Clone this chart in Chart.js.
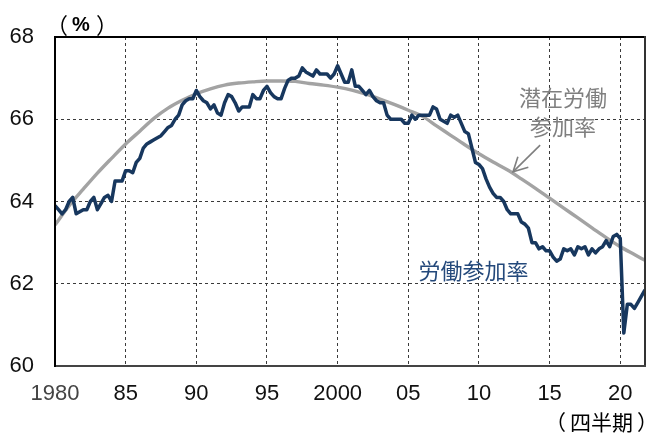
<!DOCTYPE html>
<html lang="ja">
<head>
<meta charset="utf-8">
<title>労働参加率と潜在労働参加率</title>
<script src="https://cdn.jsdelivr.net/npm/chart.js@4.4.1/dist/chart.umd.min.js"></script>
<style>
  html, body { margin: 0; padding: 0; background: #fff; }
  canvas { display: block; }
</style>
</head>
<body>
<canvas id="c" width="651" height="433"></canvas>
<script>
// Quarterly labour force participation rate (%), 1980Q1 - 2021Q4
const startYear = 1980;
const lfpr = [
  63.9, 63.8, 63.7, 63.8,   // 1980
  64.0, 64.1, 63.7, 63.75,  // 1981
  63.8, 63.8, 64.0, 64.1,   // 1982
  63.8, 63.95, 64.1, 64.15, // 1983
  64.0, 64.5, 64.5, 64.5,   // 1984
  64.75, 64.75, 64.7, 64.95,// 1985
  65.05, 65.3, 65.4, 65.45, // 1986
  65.5, 65.55, 65.6, 65.7,  // 1987
  65.8, 65.85, 66.0, 66.1,  // 1988
  66.35, 66.45, 66.5, 66.5, // 1989
  66.7, 66.55, 66.45, 66.4, // 1990
  66.25, 66.35, 66.15, 66.1,// 1991
  66.4, 66.6, 66.55, 66.4,  // 1992
  66.2, 66.3, 66.3, 66.3,   // 1993
  66.6, 66.5, 66.5, 66.7,   // 1994
  66.8, 66.65, 66.55, 66.5, // 1995
  66.5, 66.75, 66.95, 67.0, // 1996
  67.0, 67.05, 67.25, 67.15,// 1997
  67.1, 67.05, 67.2, 67.1,  // 1998
  67.1, 67.1, 67.0, 67.1,   // 1999
  67.3, 67.1, 66.9, 66.9,   // 2000
  67.2, 66.8, 66.8, 66.7,   // 2001
  66.6, 66.7, 66.55, 66.45, // 2002
  66.4, 66.4, 66.1, 66.0,   // 2003
  66.0, 66.0, 66.0, 65.9,   // 2004
  65.9, 66.1, 66.0, 66.1,   // 2005
  66.1, 66.1, 66.1, 66.3,   // 2006
  66.25, 66.0, 65.95, 65.9, // 2007
  66.1, 66.05, 66.1, 65.9,  // 2008
  65.7, 65.65, 65.3, 64.95, // 2009
  64.9, 64.8, 64.55, 64.35, // 2010
  64.2, 64.1, 64.1, 64.0,   // 2011
  63.8, 63.7, 63.7, 63.7,   // 2012
  63.5, 63.45, 63.35, 63.0, // 2013
  63.0, 62.85, 62.9, 62.8,  // 2014
  62.8, 62.65, 62.55, 62.6, // 2015
  62.85, 62.8, 62.85, 62.7, // 2016
  62.9, 62.85, 62.9, 62.7,  // 2017
  62.85, 62.75, 62.85, 62.9,// 2018
  63.05, 62.9, 63.15, 63.2, // 2019
  63.1, 60.8, 61.5, 61.5,   // 2020
  61.4, 61.55, 61.7, 61.85  // 2021
];

// Potential participation rate (%), start of each year plus the last quarter
const potentialYears = [
  1980, 1981, 1982, 1983, 1984, 1985, 1986, 1987, 1988, 1989,
  1990, 1991, 1992, 1993, 1994, 1995, 1996, 1997, 1998, 1999,
  2000, 2001, 2002, 2003, 2004, 2005, 2006, 2007, 2008, 2009,
  2010, 2011, 2012, 2013, 2014, 2015, 2016, 2017, 2018, 2019,
  2020, 2021, 2021.75
];
const potentialRate = [
  63.43, 63.90, 64.30, 64.69, 65.05, 65.40, 65.71, 66.02, 66.27, 66.46,
  66.62, 66.74, 66.83, 66.88, 66.91, 66.93, 66.93, 66.92, 66.87, 66.83,
  66.78, 66.71, 66.61, 66.49, 66.36, 66.22, 66.07, 65.84, 65.61, 65.38,
  65.16, 64.96, 64.77, 64.55, 64.32, 64.08, 63.84, 63.60, 63.36, 63.12,
  62.90, 62.71, 62.57
];

// Axis ticks
const xTickYears  = [1980, 1985, 1990, 1995, 2000, 2005, 2010, 2015, 2020];
const xTickLabels = ['1980', '85', '90', '95', '2000', '05', '10', '15', '20'];
const yTicks = [60, 62, 64, 66, 68];

const X_MIN = 1980, X_MAX = 2021.75, Y_MIN = 60, Y_MAX = 68;

const lfprPoints = lfpr.map((v, i) => ({ x: startYear + i / 4, y: v }));
const potentialPoints = potentialYears.map((yr, i) => ({ x: yr, y: potentialRate[i] }));

const LATIN = '"Liberation Sans", Arial, sans-serif';
const CJK = '"Noto Sans CJK JP", "Noto Sans", sans-serif';

// Box around the plotting area
const framePlugin = {
  id: 'frame',
  afterDatasetsDraw(chart) {
    const { ctx, chartArea: a } = chart;
    ctx.save();
    ctx.lineWidth = 2;
    ctx.lineCap = 'square';
    const seg = (x1, y1, x2, y2, c) => {
      ctx.strokeStyle = c;
      ctx.beginPath(); ctx.moveTo(x1, y1); ctx.lineTo(x2, y2); ctx.stroke();
    };
    seg(a.left, a.top, a.right, a.top, '#000');
    seg(a.right, a.top, a.right, a.bottom, '#333');
    seg(a.left, a.bottom, a.right, a.bottom, '#444');
    seg(a.left, a.top, a.left, a.bottom, '#000');
    ctx.restore();
  }
};

// Draws a string so that its inked part starts at inkLeft, vertically centred on y
function drawInk(ctx, text, inkLeft, y) {
  ctx.textAlign = 'left';
  const m = ctx.measureText(text);
  ctx.fillText(text, inkLeft + m.actualBoundingBoxLeft, y);
  return inkLeft + m.actualBoundingBoxLeft + m.actualBoundingBoxRight;
}

// Unit labels, series names and the arrow to the potential rate curve
const notesPlugin = {
  id: 'notes',
  afterDraw(chart) {
    const { ctx, chartArea: a } = chart;
    const sx = chart.scales.x, sy = chart.scales.y;
    const px = v => sx.getPixelForValue(v);
    const py = v => sy.getPixelForValue(v);
    ctx.save();
    ctx.textBaseline = 'middle';
    ctx.fillStyle = '#000';

    // （%） above the value axis
    ctx.font = '22px ' + CJK;
    drawInk(ctx, '（', a.left + 6, a.top - 12);
    ctx.font = 'bold 20px ' + LATIN;
    drawInk(ctx, '%', a.left + 17, a.top - 12);
    ctx.font = '22px ' + CJK;
    drawInk(ctx, '）', a.left + 42, a.top - 12);

    // （四半期） under the time axis
    ctx.font = '21px ' + CJK;
    drawInk(ctx, '（', a.right - 86, 422);
    drawInk(ctx, '四半期', a.right - 74, 422);
    drawInk(ctx, '）', a.right - 8, 422);

    ctx.textAlign = 'center';
    ctx.font = '22px ' + CJK;
    ctx.fillStyle = '#7f7f7f';
    ctx.fillText('潜在労働', px(2015.95), py(66.52));
    ctx.fillText('参加率', px(2015.95), py(65.81));

    ctx.fillStyle = '#24497b';
    ctx.fillText('労働参加率', px(2009.62), py(62.31));

    // arrow
    const tx = px(2012.41), ty = py(64.72);
    const fx = px(2014.33), fy = py(65.37);
    ctx.strokeStyle = '#7f7f7f';
    ctx.lineWidth = 1.6;
    ctx.beginPath(); ctx.moveTo(fx, fy); ctx.lineTo(tx, ty); ctx.stroke();
    const ang = Math.atan2(fy - ty, fx - tx);
    const L = 16, spread = Math.PI / 6.5;
    ctx.beginPath();
    ctx.moveTo(tx + L * Math.cos(ang - spread), ty + L * Math.sin(ang - spread));
    ctx.lineTo(tx, ty);
    ctx.lineTo(tx + L * Math.cos(ang + spread), ty + L * Math.sin(ang + spread));
    ctx.stroke();
    ctx.restore();
  }
};

const gridColor = (edgeValues) => (c) =>
  (c.tick && edgeValues.includes(c.tick.value)) ? 'rgba(0,0,0,0)' : '#3a3a3a';

new Chart(document.getElementById('c'), {
  type: 'line',
  data: {
    datasets: [
      {
        label: '労働参加率',
        data: lfprPoints,
        borderColor: '#17375e',
        borderWidth: 3.5,
        borderJoinStyle: 'round',
        pointRadius: 0,
        tension: 0,
        order: 1
      },
      {
        label: '潜在労働参加率',
        data: potentialPoints,
        borderColor: '#a3a3a3',
        borderWidth: 3.4,
        pointRadius: 0,
        cubicInterpolationMode: 'monotone',
        order: 2
      }
    ]
  },
  options: {
    responsive: false,
    animation: false,
    devicePixelRatio: 1,
    layout: { padding: { top: 37, right: 6, left: 0, bottom: 0 } },
    plugins: { legend: { display: false }, tooltip: { enabled: false } },
    scales: {
      x: {
        type: 'linear',
        min: X_MIN,
        max: X_MAX,
        afterFit(s) { s.height = 67; },
        afterBuildTicks(s) { s.ticks = xTickYears.map(v => ({ value: v })); },
        ticks: {
          autoSkip: false,
          maxRotation: 0,
          padding: 15,
          color: (c) => c.index === 0 ? '#444' : '#111',
          font: { family: LATIN, size: 22 },
          callback: (v, i) => xTickLabels[i]
        },
        grid: { color: gridColor([X_MIN]), lineWidth: 1, drawTicks: false, tickLength: 0 },
        border: { display: false, dash: [3, 3] }
      },
      y: {
        min: Y_MIN,
        max: Y_MAX,
        afterFit(s) { s.width = 55; },
        afterBuildTicks(s) { s.ticks = yTicks.map(v => ({ value: v })); },
        ticks: {
          padding: 21,
          color: '#111',
          font: { family: LATIN, size: 22 },
          callback: (v) => String(v)
        },
        grid: { color: gridColor([Y_MIN, Y_MAX]), lineWidth: 1, drawTicks: false, tickLength: 0 },
        border: { display: false, dash: [3, 3] }
      }
    }
  },
  plugins: [framePlugin, notesPlugin]
});
</script>
</body>
</html>
